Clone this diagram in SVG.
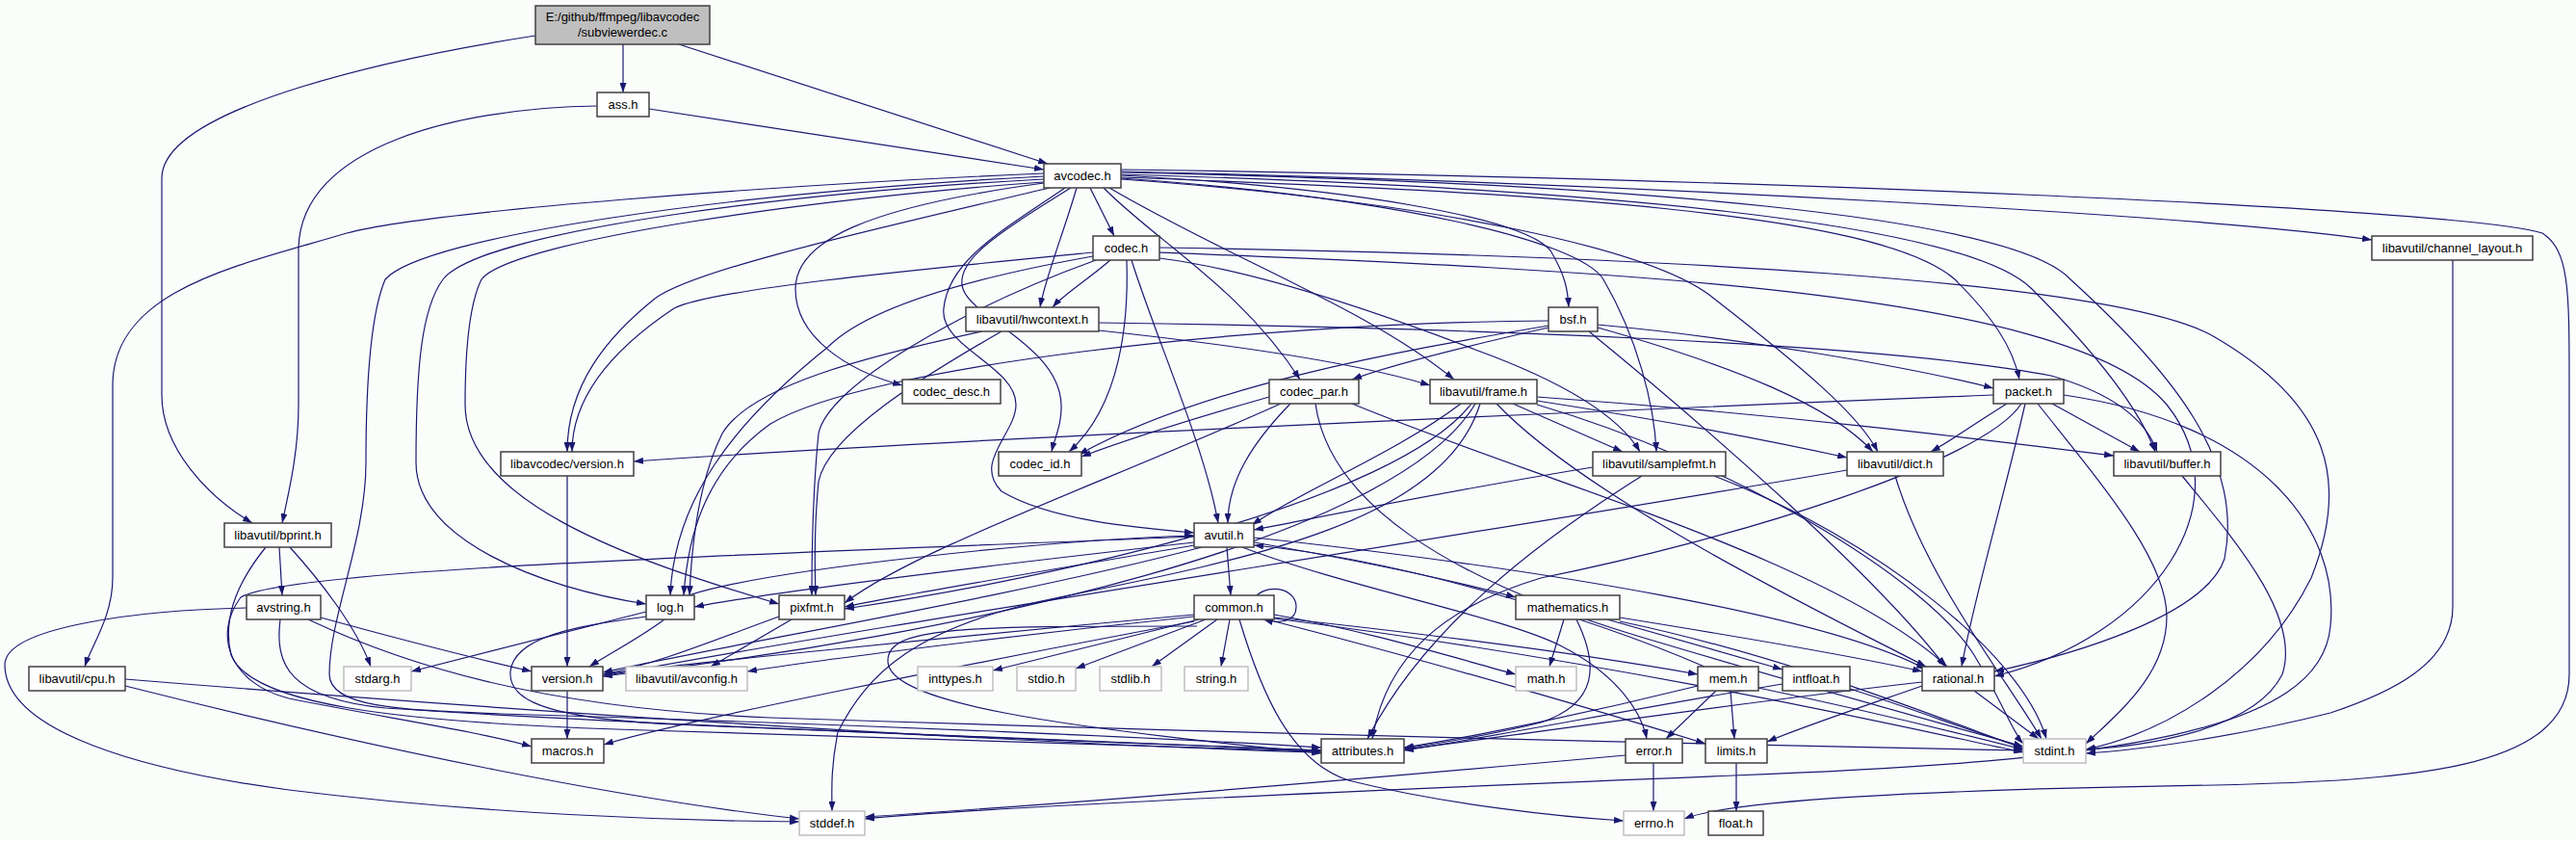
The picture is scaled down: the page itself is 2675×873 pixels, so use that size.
<svg xmlns="http://www.w3.org/2000/svg" width="2675" height="873" viewBox="0 0 2675 873">
<defs>
<marker id="a" markerWidth="10" markerHeight="7" refX="10" refY="3.5" orient="auto" markerUnits="userSpaceOnUse"><path d="M0,0 L10,3.5 L0,7 z" fill="#191970"/></marker>
<style>
.n rect{fill:#ffffff;stroke:#404040;stroke-width:1.5}
.g rect{fill:#ffffff;stroke:#bfbfbf;stroke-width:1.5}
.r rect{fill:#bfbfbf;stroke:#404040;stroke-width:1.5}
text{font-family:"Liberation Sans",Arial,sans-serif;font-size:13px;fill:#000;text-anchor:middle}
#edges path{fill:none;stroke:#191970;stroke-width:1.2;marker-end:url(#a)}
</style>
</defs>
<rect width="2675" height="873" fill="#fbfdfb"/>
<g id="edges">
<path d="M647,46 L647,96"/>
<path d="M705,46 L1088,170"/>
<path d="M556,37 C420,58 168,110 168,185 L168,410 C168,465 215,515 262,543"/>
<path d="M674,113 L1084,176"/>
<path d="M620,110 C480,112 310,150 310,260 L310,420 C310,470 300,510 293,543"/>
<path d="M1084,180 C800,192 440,220 360,242 C250,275 117,300 117,400 L117,600 C117,640 95,670 88,692"/>
<path d="M1084,183 C760,200 440,245 400,290 C383,330 380,420 380,480 C380,560 342,640 342,700 C342,735 420,737 520,741 C900,752 1250,768 1372,776"/>
<path d="M1084,186 C820,200 500,240 460,290 C438,320 432,380 432,480 C432,560 560,610 671,627"/>
<path d="M1084,189 C850,205 530,250 500,290 C485,320 483,380 483,420 C483,520 650,580 809,627"/>
<path d="M1090,195 C900,240 720,280 680,310 C630,350 589,400 589,469"/>
<path d="M1132,195 L1157,245"/>
<path d="M1118,195 C1105,240 1085,290 1080,319"/>
<path d="M1106,195 C1040,240 985,270 980,320 C975,360 1055,380 1055,420 C1055,450 1010,480 1040,510 C1090,540 1180,548 1240,553"/>
<path d="M1112,195 C1040,240 990,270 1000,300 C1010,330 1100,360 1102,420 C1103,440 1095,455 1092,469"/>
<path d="M1084,190 C900,215 826,250 826,300 C826,350 880,385 937,400"/>
<path d="M1146,195 C1200,250 1290,300 1350,394"/>
<path d="M1152,195 C1280,270 1420,320 1510,394"/>
<path d="M1164,182 C1400,195 1580,225 1610,260 C1625,285 1628,300 1629,319"/>
<path d="M1164,185 C1450,205 1640,250 1665,290 C1700,350 1718,420 1720,469"/>
<path d="M1164,186 C1500,210 1720,260 1780,310 C1870,380 1930,430 1950,469"/>
<path d="M1164,184 C1600,200 1950,220 2030,290 C2070,330 2090,360 2097,394"/>
<path d="M1164,181 C1650,195 2040,230 2110,300 C2170,360 2220,420 2238,469"/>
<path d="M1164,179 C1700,190 2090,225 2150,290 C2260,390 2330,480 2310,580 C2290,640 2150,680 2071,697"/>
<path d="M1164,178 C1700,190 2300,225 2463,249"/>
<path d="M1164,176 C1800,185 2550,215 2640,242 C2668,260 2668,300 2668,400 L2668,700 C2668,800 2500,810 2300,815 C2000,820 1800,830 1749,850"/>
<path d="M1153,270 C1130,290 1105,305 1093,319"/>
<path d="M1170,270 C1172,330 1165,420 1110,469"/>
<path d="M1175,270 C1200,350 1250,460 1265,543"/>
<path d="M1135,262 C950,280 740,300 700,320 C640,360 594,410 594,469"/>
<path d="M1135,266 C1000,290 900,320 860,360 C760,440 700,520 696,618"/>
<path d="M1138,270 C1000,320 860,400 850,450 C843,520 843,580 843,618"/>
<path d="M1204,262 C1650,280 2150,300 2250,420 C2330,520 2240,660 2071,702"/>
<path d="M1204,268 C1300,280 1420,320 1532,363 C1620,395 1680,430 1703,469"/>
<path d="M1204,257 C1700,265 2200,290 2300,350 C2420,420 2440,500 2400,600 C2350,700 2250,760 2166,778"/>
<path d="M1141,335 C1500,340 1950,355 2130,390 C2200,410 2230,440 2240,469"/>
<path d="M1141,343 C1300,360 1420,380 1485,400"/>
<path d="M1020,344 C900,370 780,400 750,450 C725,500 718,570 716,618"/>
<path d="M1040,344 C960,390 860,450 850,500 C845,550 846,590 847,618"/>
<path d="M1608,340 C1520,360 1440,380 1404,394"/>
<path d="M1659,337 C1800,350 1980,380 2070,403"/>
<path d="M1659,340 C1800,380 1900,420 1945,469"/>
<path d="M1650,344 C1780,450 1950,600 2020,692"/>
<path d="M1608,338 C1450,365 1250,400 1120,472"/>
<path d="M1608,333 C1300,335 900,380 800,440 C730,490 714,560 710,618"/>
<path d="M1318,412 C1220,440 1160,460 1123,474"/>
<path d="M1340,419 C1300,460 1275,500 1275,543"/>
<path d="M1330,419 C1150,500 950,570 877,626"/>
<path d="M1404,419 C1600,500 1900,580 2022,692"/>
<path d="M1366,419 C1380,520 1500,600 1700,660 C1900,720 2050,760 2101,775"/>
<path d="M1571,419 L1685,469"/>
<path d="M1596,416 C1750,440 1850,460 1918,475"/>
<path d="M1596,412 C1850,430 2050,455 2195,473"/>
<path d="M1596,420 C1800,480 2000,600 2050,680 C2080,730 2090,760 2101,772"/>
<path d="M1554,419 C1650,520 1900,640 2000,692"/>
<path d="M1517,419 C1450,470 1350,510 1300,545"/>
<path d="M1528,419 C1450,520 1100,600 877,632"/>
<path d="M1532,419 C1450,560 1000,660 626,702"/>
<path d="M1537,419 C1500,540 1300,580 1100,620 C950,650 900,700 870,760 C862,800 864,825 864,842"/>
<path d="M822,643 L738,692"/>
<path d="M809,640 C740,665 680,690 626,700"/>
<path d="M671,635 L427,697"/>
<path d="M715,618 C800,590 1100,560 1240,556"/>
<path d="M671,640 C600,650 534,660 530,697 C528,725 560,745 700,752 C1000,765 1250,775 1372,779"/>
<path d="M690,643 C660,665 630,680 612,692"/>
<path d="M589,717 L589,767"/>
<path d="M589,494 L589,692"/>
<path d="M256,631 C150,633 5,650 5,690 C5,760 150,800 300,820 C500,845 700,852 830,853"/>
<path d="M333,641 C420,665 500,685 552,697"/>
<path d="M320,643 C420,690 560,735 800,745 C1400,765 1900,775 2101,779"/>
<path d="M291,643 C285,690 300,725 400,735 C700,755 1200,772 1372,779"/>
<path d="M290,568 L293,618"/>
<path d="M301,568 C330,600 370,650 385,692"/>
<path d="M276,568 C250,600 230,640 240,680 C260,730 400,750 670,758 C1000,768 1250,776 1372,780"/>
<path d="M130,705 C500,735 1000,770 1372,781"/>
<path d="M130,712 C400,780 650,830 830,850"/>
<path d="M1274,568 L1278,618"/>
<path d="M1302,563 C1400,580 1500,600 1574,620"/>
<path d="M1302,558 C1600,590 1900,640 2000,695"/>
<path d="M1290,568 C1400,610 1560,640 1620,670 C1680,700 1705,740 1710,767"/>
<path d="M1248,568 C1050,620 750,670 626,698"/>
<path d="M1240,557 C800,575 300,590 250,620 C220,660 240,710 300,725 C400,745 500,760 552,775"/>
<path d="M1240,563 C1000,590 800,615 721,630"/>
<path d="M1240,566 C1100,590 950,615 877,630"/>
<path d="M1245,643 L1031,696"/>
<path d="M1252,643 L1117,694"/>
<path d="M1264,643 L1196,692"/>
<path d="M1277,643 L1268,692"/>
<path d="M1240,640 C1050,660 850,685 776,697"/>
<path d="M1240,638 C1000,660 700,690 626,700"/>
<path d="M1240,645 C1000,690 700,750 627,773"/>
<path d="M1243,650 C1000,650 920,650 922,687 C924,730 1100,755 1372,782"/>
<path d="M1323,638 C1420,655 1500,680 1574,700"/>
<path d="M1323,641 C1500,660 1650,680 1763,700"/>
<path d="M1323,645 C1500,690 1700,750 1771,772"/>
<path d="M1323,642 C1700,690 2000,760 2101,781"/>
<path d="M1287,643 C1310,720 1340,790 1400,810 C1500,835 1620,848 1686,852"/>
<path d="M1305,618 C1320,605 1346,612 1346,630 C1346,645 1330,648 1312,643"/>
<path d="M1624,643 L1609,692"/>
<path d="M1637,643 C1660,690 1660,730 1600,750 C1540,765 1490,772 1458,777"/>
<path d="M1682,641 C1800,660 1920,680 1996,697"/>
<path d="M1669,643 L1851,695"/>
<path d="M1682,645 C1850,680 2000,740 2101,777"/>
<path d="M1797,717 L1801,767"/>
<path d="M1782,717 L1730,767"/>
<path d="M1763,712 C1650,740 1530,765 1458,776"/>
<path d="M1826,714 C1950,740 2050,765 2101,778"/>
<path d="M1770,692 C1650,640 1450,580 1302,566"/>
<path d="M1654,485 C1500,510 1380,535 1302,550"/>
<path d="M1705,494 C1600,560 1480,650 1420,767"/>
<path d="M1780,494 C1950,560 2100,680 2125,767"/>
<path d="M1918,488 C1500,560 900,650 626,702"/>
<path d="M1968,494 C2000,600 2080,700 2120,767"/>
<path d="M2070,410 C1700,425 1000,455 658,479"/>
<path d="M2084,419 C2050,440 2030,455 2005,469"/>
<path d="M2099,419 C2060,480 1800,560 1600,600 C1500,630 1440,680 1425,767"/>
<path d="M2103,419 C2080,520 2050,620 2037,692"/>
<path d="M2116,419 C2180,500 2250,580 2250,640 C2250,700 2200,740 2166,772"/>
<path d="M2131,419 L2222,469"/>
<path d="M2143,410 C2350,440 2430,550 2420,650 C2410,760 2200,790 1800,805 C1300,825 1000,840 898,850"/>
<path d="M2266,494 C2320,560 2390,640 2370,700 C2340,760 2220,775 2166,778"/>
<path d="M2547,270 L2547,630 C2547,690 2480,720 2420,740 C2300,770 2200,780 2166,782"/>
<path d="M2050,717 L2117,767"/>
<path d="M1996,712 C1930,735 1870,755 1835,770"/>
<path d="M1996,708 C1800,730 1600,760 1458,778"/>
<path d="M1851,710 C1700,735 1550,765 1458,779"/>
<path d="M1921,715 C2000,740 2060,765 2101,775"/>
<path d="M1717,792 L1717,842"/>
<path d="M1688,784 C1400,810 1100,835 898,848"/>
<path d="M1803,792 L1803,842"/>
</g>
<g id="n_root" class="r"><rect x="556" y="6" width="181" height="40"/><text x="646.5" y="22">E:/github/ffmpeg/libavcodec</text><text x="646.5" y="38">/subviewerdec.c</text></g>
<g id="n_ass" class="n"><rect x="620" y="96" width="54" height="25"/><text x="647" y="113">ass.h</text></g>
<g id="n_avcodec" class="n"><rect x="1084" y="170" width="80" height="25"/><text x="1124" y="187">avcodec.h</text></g>
<g id="n_codec" class="n"><rect x="1135" y="245" width="69" height="25"/><text x="1169.5" y="262">codec.h</text></g>
<g id="n_chl" class="n"><rect x="2463" y="245" width="167" height="25"/><text x="2546.5" y="262">libavutil/channel_layout.h</text></g>
<g id="n_hw" class="n"><rect x="1003" y="319" width="138" height="25"/><text x="1072" y="336">libavutil/hwcontext.h</text></g>
<g id="n_bsf" class="n"><rect x="1608" y="319" width="51" height="25"/><text x="1633.5" y="336">bsf.h</text></g>
<g id="n_cdesc" class="n"><rect x="937" y="394" width="102" height="25"/><text x="988" y="411">codec_desc.h</text></g>
<g id="n_cpar" class="n"><rect x="1318" y="394" width="93" height="25"/><text x="1364.5" y="411">codec_par.h</text></g>
<g id="n_frame" class="n"><rect x="1485" y="394" width="111" height="25"/><text x="1540.5" y="411">libavutil/frame.h</text></g>
<g id="n_packet" class="n"><rect x="2070" y="394" width="73" height="25"/><text x="2106.5" y="411">packet.h</text></g>
<g id="n_lvver" class="n"><rect x="520" y="469" width="138" height="25"/><text x="589" y="486">libavcodec/version.h</text></g>
<g id="n_cid" class="n"><rect x="1037" y="469" width="86" height="25"/><text x="1080" y="486">codec_id.h</text></g>
<g id="n_sfmt" class="n"><rect x="1654" y="469" width="138" height="25"/><text x="1723" y="486">libavutil/samplefmt.h</text></g>
<g id="n_dict" class="n"><rect x="1918" y="469" width="100" height="25"/><text x="1968" y="486">libavutil/dict.h</text></g>
<g id="n_buffer" class="n"><rect x="2195" y="469" width="111" height="25"/><text x="2250.5" y="486">libavutil/buffer.h</text></g>
<g id="n_bprint" class="n"><rect x="233" y="543" width="111" height="25"/><text x="288.5" y="560">libavutil/bprint.h</text></g>
<g id="n_avutil" class="n"><rect x="1240" y="543" width="62" height="25"/><text x="1271" y="560">avutil.h</text></g>
<g id="n_avstring" class="n"><rect x="256" y="618" width="77" height="25"/><text x="294.5" y="635">avstring.h</text></g>
<g id="n_log" class="n"><rect x="671" y="618" width="50" height="25"/><text x="696" y="635">log.h</text></g>
<g id="n_pixfmt" class="n"><rect x="809" y="618" width="68" height="25"/><text x="843" y="635">pixfmt.h</text></g>
<g id="n_common" class="n"><rect x="1240" y="618" width="83" height="25"/><text x="1281.5" y="635">common.h</text></g>
<g id="n_mathematics" class="n"><rect x="1574" y="618" width="108" height="25"/><text x="1628" y="635">mathematics.h</text></g>
<g id="n_cpu" class="n"><rect x="30" y="692" width="100" height="25"/><text x="80" y="709">libavutil/cpu.h</text></g>
<g id="n_stdarg" class="g"><rect x="357" y="692" width="70" height="25"/><text x="392" y="709">stdarg.h</text></g>
<g id="n_version" class="n"><rect x="552" y="692" width="74" height="25"/><text x="589" y="709">version.h</text></g>
<g id="n_avconfig" class="g"><rect x="650" y="692" width="126" height="25"/><text x="713" y="709">libavutil/avconfig.h</text></g>
<g id="n_inttypes" class="g"><rect x="953" y="692" width="78" height="25"/><text x="992" y="709">inttypes.h</text></g>
<g id="n_stdio" class="g"><rect x="1056" y="692" width="61" height="25"/><text x="1086.5" y="709">stdio.h</text></g>
<g id="n_stdlib" class="g"><rect x="1142" y="692" width="64" height="25"/><text x="1174" y="709">stdlib.h</text></g>
<g id="n_string" class="g"><rect x="1230" y="692" width="66" height="25"/><text x="1263" y="709">string.h</text></g>
<g id="n_mathh" class="g"><rect x="1574" y="692" width="63" height="25"/><text x="1605.5" y="709">math.h</text></g>
<g id="n_mem" class="n"><rect x="1763" y="692" width="63" height="25"/><text x="1794.5" y="709">mem.h</text></g>
<g id="n_intfloat" class="n"><rect x="1851" y="692" width="70" height="25"/><text x="1886" y="709">intfloat.h</text></g>
<g id="n_rational" class="n"><rect x="1996" y="692" width="75" height="25"/><text x="2033.5" y="709">rational.h</text></g>
<g id="n_macros" class="n"><rect x="552" y="767" width="75" height="25"/><text x="589.5" y="784">macros.h</text></g>
<g id="n_attributes" class="n"><rect x="1372" y="767" width="86" height="25"/><text x="1415" y="784">attributes.h</text></g>
<g id="n_error" class="n"><rect x="1688" y="767" width="59" height="25"/><text x="1717.5" y="784">error.h</text></g>
<g id="n_limits" class="n"><rect x="1771" y="767" width="64" height="25"/><text x="1803" y="784">limits.h</text></g>
<g id="n_stdint" class="g"><rect x="2101" y="767" width="65" height="25"/><text x="2133.5" y="784">stdint.h</text></g>
<g id="n_stddef" class="g"><rect x="830" y="842" width="68" height="25"/><text x="864" y="859">stddef.h</text></g>
<g id="n_errno" class="g"><rect x="1686" y="842" width="63" height="25"/><text x="1717.5" y="859">errno.h</text></g>
<g id="n_float" class="n"><rect x="1774" y="842" width="57" height="25"/><text x="1802.5" y="859">float.h</text></g>
</svg>
